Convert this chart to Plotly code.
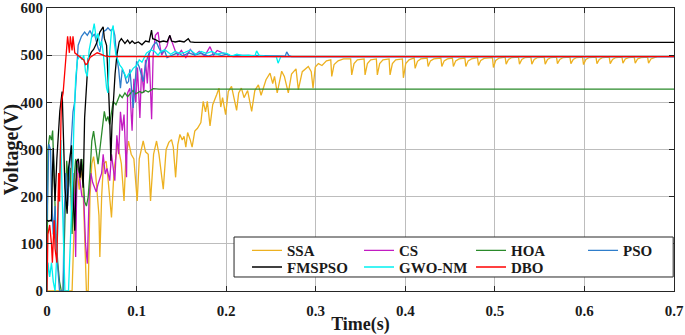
import plotly.graph_objects as go

# ---------------- data ----------------
series_names = ["SSA", "CS", "HOA", "PSO", "FMSPSO", "GWO-NM", "DBO"]

ssa_t = [0.000, 0.028, 0.030, 0.032, 0.034, 0.036, 0.038, 0.040, 0.042, 0.044, 0.046, 0.048, 0.050, 0.052,
         0.054, 0.056, 0.058, 0.059, 0.061, 0.063, 0.066, 0.068, 0.070, 0.072, 0.075, 0.077, 0.079, 0.081,
         0.083, 0.086, 0.088, 0.091, 0.094, 0.097, 0.1007, 0.103, 0.1074, 0.110, 0.113, 0.1156, 0.119,
         0.1223, 0.125, 0.1298, 0.133, 0.136, 0.139, 0.141, 0.1436, 0.146, 0.1484, 0.151, 0.153, 0.155,
         0.157, 0.160, 0.162, 0.165, 0.168, 0.1718, 0.1744, 0.177, 0.179, 0.182, 0.185, 0.1894, 0.192,
         0.194, 0.196, 0.1994, 0.2024, 0.206, 0.209, 0.2117, 0.214, 0.217, 0.220, 0.224, 0.2285, 0.232,
         0.236, 0.239, 0.2445, 0.249, 0.252, 0.254, 0.257, 0.262, 0.265, 0.2694, 0.273, 0.278, 0.2806,
         0.285, 0.2917, 0.295,
         0.2970, 0.2995, 0.303, 0.307, 0.312, 0.3168, 0.3179, 0.3205, 0.325, 0.331, 0.3390,
         0.3402, 0.3428, 0.3465, 0.3540, 0.3551, 0.3577, 0.3614, 0.3677, 0.3688, 0.3714, 0.3751, 0.3819,
         0.3830, 0.3856, 0.3893, 0.3968, 0.3979, 0.4005, 0.4042, 0.4099, 0.4110, 0.4136, 0.4173, 0.4244,
         0.4255, 0.4281, 0.4318, 0.4397, 0.4408, 0.4434, 0.4471, 0.4526, 0.4537, 0.4563, 0.4600, 0.4665,
         0.4676, 0.4702, 0.4739, 0.4806, 0.4817, 0.4843, 0.4880, 0.4973, 0.4984, 0.5010, 0.5047, 0.5115,
         0.5126, 0.5152, 0.5189, 0.5264, 0.5275, 0.5301, 0.5338, 0.5402, 0.5413, 0.5439, 0.5476, 0.5551,
         0.5562, 0.5588, 0.5625, 0.5688, 0.5699, 0.5725, 0.5762, 0.5838, 0.5849, 0.5875, 0.5912, 0.5979,
         0.5990, 0.6016, 0.6053, 0.6129, 0.6140, 0.6166, 0.6203, 0.6277, 0.6288, 0.6314, 0.6351, 0.6419,
         0.6430, 0.6456, 0.6493, 0.6556, 0.6567, 0.6593, 0.6630, 0.6705, 0.6716, 0.6742, 0.6779, 0.681]
ssa_v = [0, 0, 120, 230, 250, 215, 260, 230, 120, 0, 0, 200, 270, 285,
         255, 215, 160, 72, 200, 269, 275, 240, 200, 156, 260, 290, 311, 290,
         270, 191, 280, 318, 290, 280, 191, 280, 318, 295, 290, 191, 290,
         318, 290, 216, 300, 315, 321, 305, 241, 310, 332, 320, 328, 305,
         336, 320, 305, 339, 345, 357, 402, 380, 402, 350, 395, 416, 430,
         390, 410, 374, 423, 434, 405, 383, 420, 430, 410, 425, 381, 425,
         437, 415, 448, 462, 440, 455, 420, 466, 455, 420, 460, 471, 427,
         465, 476, 465,
         430, 475, 482, 478, 488, 490, 455, 480, 488, 492, 492,
         458, 482, 490, 492, 458, 482, 490, 492, 458, 482, 490, 492,
         458, 482, 490, 492, 452, 482, 490, 494, 472, 487, 492, 494,
         476, 488, 492, 494, 476, 488, 492, 494, 476, 488, 492, 494,
         476, 488, 492, 495, 478, 489, 493, 495, 474, 489, 494, 496,
         481, 491, 495, 496, 481, 491, 495, 496, 481, 491, 495, 496,
         481, 491, 495, 496, 482, 491, 495, 496, 482, 491, 495, 496,
         480, 491, 495, 496, 482, 491, 495, 496, 482, 491, 495, 496,
         483, 492, 495, 496, 483, 492, 495, 496, 483, 492, 495, 497]

cs_t = [0.030, 0.031, 0.032, 0.033, 0.034, 0.035, 0.037, 0.039, 0.041, 0.043, 0.045, 0.047, 0.049, 0.051,
        0.053, 0.055, 0.057, 0.059, 0.061, 0.0627, 0.065, 0.067, 0.070, 0.072, 0.0757, 0.078, 0.080,
        0.082, 0.084, 0.086, 0.0888, 0.090, 0.0925, 0.095, 0.097, 0.099, 0.101, 0.1037, 0.1056, 0.108,
        0.110, 0.112, 0.114, 0.1168, 0.1185, 0.121, 0.124, 0.126, 0.128, 0.131, 0.134, 0.137, 0.140,
        0.143, 0.146, 0.150, 0.155, 0.160, 0.165, 0.170, 0.176, 0.182, 0.186, 0.190, 0.196, 0.2076, 0.700]
cs_v = [250, 150, 72, 200, 276, 260, 230, 200, 200, 100, 58, 200, 250, 230,
        220, 210, 227, 240, 250, 290, 248, 260, 234, 290, 234, 330, 290,
        380, 340, 374, 241, 420, 430, 340, 450, 400, 474, 367, 472, 420,
        490, 440, 505, 364, 500, 542, 549, 520, 500, 510, 520, 542, 525,
        510, 500, 510, 495, 512, 500, 508, 498, 518, 500, 510, 505, 497, 497]

hoa_t = [0.000, 0.001, 0.003, 0.005, 0.0063, 0.008, 0.010, 0.012, 0.014, 0.016, 0.018, 0.020, 0.022,
         0.024, 0.026, 0.028, 0.030, 0.032, 0.034, 0.036, 0.039, 0.042, 0.044, 0.046, 0.048, 0.050,
         0.052, 0.054, 0.057, 0.059, 0.0627, 0.064, 0.066, 0.068, 0.070, 0.0739, 0.077, 0.0813, 0.084,
         0.087, 0.090, 0.093, 0.096, 0.099, 0.1037, 0.106, 0.110, 0.113, 0.1186, 0.125, 0.700]
hoa_v = [0, 300, 330, 320, 340, 250, 120, 60, 20, 0, 0, 150, 276,
         220, 261, 121, 230, 280, 265, 250, 280, 190, 180, 200, 250, 318,
         339, 310, 269, 300, 367, 381, 360, 370, 353, 402, 395, 416, 410,
         420, 412, 418, 425, 418, 423, 420, 425, 422, 429, 428, 428]

pso_t = [0.000, 0.002, 0.004, 0.005, 0.007, 0.009, 0.010, 0.012, 0.014, 0.018, 0.019, 0.021, 0.023,
         0.025, 0.027, 0.029, 0.031, 0.0348, 0.0385, 0.042, 0.045, 0.048, 0.051, 0.053, 0.055, 0.057,
         0.059, 0.061, 0.0627, 0.0657, 0.068, 0.071, 0.074, 0.0757, 0.0776, 0.080, 0.082, 0.084, 0.0866,
         0.089, 0.091, 0.0925, 0.094, 0.0962, 0.098, 0.100, 0.103, 0.1074, 0.110, 0.113, 0.1186, 0.122,
         0.125, 0.128, 0.131, 0.134, 0.140, 0.146, 0.152, 0.158, 0.165, 0.172, 0.180, 0.188, 0.195,
         0.200, 0.206, 0.212, 0.266, 0.2676, 0.270, 0.273, 0.700]
pso_v = [150, 311, 300, 200, 120, 180, 100, 40, 0, 0, 150, 250, 180,
         250, 330, 380, 402, 521, 540, 549, 542, 552, 540, 545, 530, 515,
         507, 535, 550, 553, 558, 552, 556, 542, 500, 470, 430, 470, 459,
         440, 444, 470, 430, 388, 430, 487, 475, 444, 480, 500, 521, 528,
         515, 505, 511, 495, 500, 505, 498, 505, 500, 504, 498, 503, 499,
         502, 498, 500, 498, 507, 499, 497, 497]

fms_t = [0.000, 0.002, 0.004, 0.005, 0.006, 0.007, 0.008, 0.009, 0.011, 0.0143, 0.0169, 0.018, 0.020,
         0.0225, 0.024, 0.0274, 0.029, 0.031, 0.033, 0.035, 0.037, 0.038, 0.0404, 0.042, 0.044, 0.046,
         0.0497, 0.052, 0.0553, 0.059, 0.0627, 0.064, 0.0665, 0.068, 0.069, 0.070, 0.0713, 0.0725, 0.0739,
         0.076, 0.078, 0.0806, 0.083, 0.087, 0.090, 0.0925, 0.095, 0.098, 0.102, 0.106, 0.110, 0.114,
         0.1167, 0.118, 0.121, 0.126, 0.130, 0.134, 0.1372, 0.139, 0.143, 0.148, 0.153, 0.1577, 0.160,
         0.165, 0.700]
fms_v = [150, 148, 150, 148, 250, 303, 240, 191, 280, 381, 423, 347, 219,
         164, 260, 309, 200, 128, 274, 280, 240, 280, 219, 367, 437, 493,
         507, 512, 525, 549, 560, 536, 521, 472, 415, 367, 276, 350, 402,
         460, 500, 528, 535, 525, 532, 525, 530, 525, 528, 522, 530, 528,
         553, 535, 533, 528, 530, 528, 542, 530, 528, 530, 528, 535, 528,
         527, 527]

gwo_t = [0.000, 0.001, 0.003, 0.005, 0.007, 0.009, 0.011, 0.013, 0.0155, 0.017, 0.019, 0.020, 0.024,
         0.026, 0.028, 0.030, 0.032, 0.034, 0.037, 0.039, 0.041, 0.043, 0.045, 0.047, 0.050, 0.0527,
         0.055, 0.057, 0.059, 0.061, 0.063, 0.0665, 0.068, 0.070, 0.072, 0.0739, 0.075, 0.077, 0.0813,
         0.084, 0.0888, 0.091, 0.093, 0.0962, 0.100, 0.103, 0.106, 0.111, 0.116, 0.120, 0.124, 0.127,
         0.132, 0.138, 0.143, 0.148, 0.154, 0.160, 0.166, 0.172, 0.178, 0.184, 0.190, 0.196, 0.2006,
         0.206, 0.212, 0.218, 0.225, 0.232, 0.234, 0.237, 0.243, 0.252, 0.256, 0.258, 0.261, 0.700]
gwo_v = [0, 60, 30, 60, 20, 0, 80, 200, 320, 200, 60, 0, 0,
         100, 200, 350, 450, 490, 500, 490, 500, 465, 455, 510, 540, 567,
         535, 546, 520, 530, 500, 430, 420, 507, 550, 563, 528, 500, 479,
         472, 451, 460, 462, 472, 478, 490, 485, 504, 511, 508, 500, 508,
         511, 502, 508, 504, 506, 511, 502, 508, 504, 508, 502, 505, 504,
         498, 502, 499, 500, 498, 509, 499, 498, 498, 497, 483, 497, 497]

dbo_t = [0.000, 0.001, 0.003, 0.005, 0.006, 0.007, 0.008, 0.009, 0.011, 0.013, 0.014, 0.015, 0.016,
         0.018, 0.020, 0.023, 0.025, 0.026, 0.028, 0.029, 0.031, 0.034, 0.038, 0.041, 0.043, 0.045,
         0.048, 0.052, 0.056, 0.060, 0.065, 0.070, 0.700]
dbo_v = [0, 120, 140, 100, 60, 130, 150, 90, 60, 250, 190, 300, 400,
         420, 470, 540, 505, 540, 510, 540, 505, 500, 495, 490, 480, 482,
         495, 500, 505, 502, 498, 497, 497]

x_ticks = [0, 0.1, 0.2, 0.3, 0.4, 0.5, 0.6, 0.7]
y_ticks = [0, 100, 200, 300, 400, 500, 600]
legend_rows = [["SSA", "CS", "HOA", "PSO"], ["FMSPSO", "GWO-NM", "DBO"]]

# ---------------- styling ----------------
colors = ["#EDB120", "#C21BC2", "#2A8A2A", "#2E7DCB", "#000000", "#00F0F0", "#FF0000"]
series = [(ssa_t, ssa_v), (cs_t, cs_v), (hoa_t, hoa_v), (pso_t, pso_v),
          (fms_t, fms_v), (gwo_t, gwo_v), (dbo_t, dbo_v)]
FONT = "Liberation Serif, Times New Roman, serif"
TXT = "#1a1a1a"

fig = go.Figure()
for name, (t, v), c in zip(series_names, series, colors):
    lg = "legend" if name in legend_rows[0] else "legend2"
    fig.add_trace(go.Scatter(x=t, y=v, mode="lines", name=name, legend=lg,
                             line=dict(color=c, width=1.3)))

axis_common = dict(showgrid=True, gridcolor="#BDBDBD", gridwidth=1, zeroline=False,
                   showline=True, linecolor="#262626", linewidth=1, mirror="ticks",
                   ticks="inside", ticklen=5, tickcolor="#262626",
                   ticklabeloverflow="allow",
                   tickfont=dict(family=FONT, size=15, color=TXT, weight="bold"))

leg_common = dict(orientation="h", xanchor="left", yanchor="middle",
                  bgcolor="rgba(0,0,0,0)", borderwidth=0,
                  entrywidth=67, entrywidthmode="pixels",
                  font=dict(family=FONT, size=15, color=TXT, weight="bold"))

fig.update_layout(
    width=685, height=335,
    margin=dict(l=47, r=11, t=8, b=44, autoexpand=False),
    plot_bgcolor="white", paper_bgcolor="white",
    showlegend=True,
    legend=dict(x=0.319, y=0.1424, **leg_common),
    legend2=dict(x=0.319, y=0.0840, **leg_common),
    shapes=[dict(type="rect", xref="paper", yref="paper", layer="above",
                 x0=0.2983, x1=0.9987, y0=0.0495, y1=0.1908,
                 line=dict(color="#262626", width=1), fillcolor="white")],
    xaxis=dict(range=[0, 0.7], tickvals=x_ticks, ticktext=[f"{v:g}" for v in x_ticks],
               ticklabelstandoff=6,
               title=dict(text="Time(s)", standoff=2,
                          font=dict(family=FONT, size=18, color=TXT, weight="bold")),
               **axis_common),
    yaxis=dict(range=[0, 600], tickvals=y_ticks, ticktext=[str(v) for v in y_ticks],
               ticklabelstandoff=0,
               title=dict(text="Voltage(V)", standoff=2,
                          font=dict(family=FONT, size=20, color=TXT, weight="bold")),
               **axis_common),
)

fig.write_html("out.html", config={"displayModeBar": False},
               post_script="document.body.style.margin='0px';")
